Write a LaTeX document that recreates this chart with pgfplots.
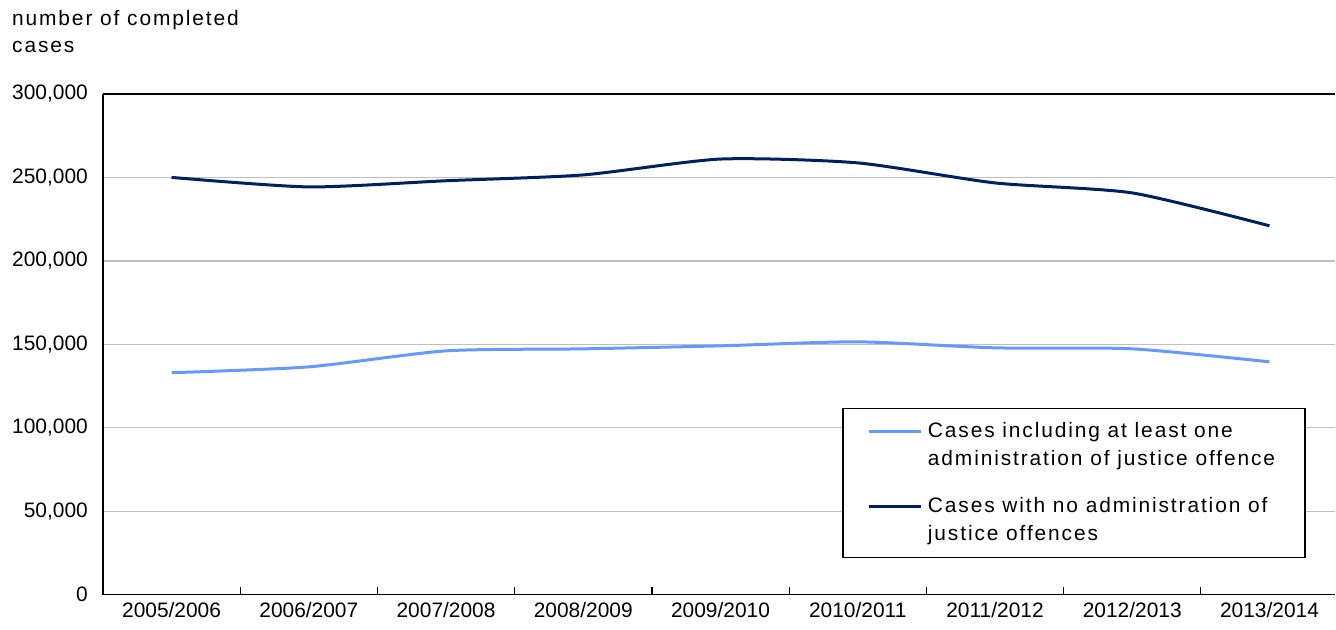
\documentclass[border=0pt]{standalone}
\usepackage{pgfplots}
\pgfplotsset{compat=1.18}
\usepackage{fontspec}
\setmainfont{Liberation Sans}
\newfontfamily\widefont[LetterSpace=9]{Liberation Sans}
\definecolor{lightser}{RGB}{102,153,255}
\definecolor{darkser}{RGB}{0,32,96}

\begin{document}
\fontsize{21}{27}\selectfont
\begin{tikzpicture}
\begin{axis}[
  scale only axis, width=1233bp, height=501bp,
  xmin=-0.5, xmax=8.48, ymin=0, ymax=300000,
  axis x line*=box, axis y line*=left,
  axis line style={line width=1.2bp, -},
  xtick pos=lower, ytick pos=left,
  tick align=inside,
  xtick={0,...,8},
  xticklabels={2005/2006,2006/2007,2007/2008,2008/2009,2009/2010,2010/2011,2011/2012,2012/2013,2013/2014},
  major x tick style={draw=none},
  minor xtick={0.5,1.5,...,7.5},
  minor tick length=8bp,
  minor x tick style={line width=1.2bp, black},
  ytick={0,50000,...,300000},
  ytick style={draw=none},
  ymajorgrids,
  grid style={black!25, line width=1.3bp},
  scaled y ticks=false,
  /pgf/number format/.cd, 1000 sep={,}, fixed, assume math mode=true,
  /pgfplots/.cd,
  yticklabel style={xshift=-8bp},
  legend style={at={(0.600,0.373)}, anchor=north west, draw=black, line width=1.2bp,
    inner xsep=25bp, inner ysep=12bp, row sep=25bp,
    nodes={align=left, inner ysep=2bp, inner xsep=5bp, font=\widefont\fontsize{21}{28}\selectfont}},
  legend cell align=left,
  legend image code/.code={\draw[#1, line width=3bp] (0bp,14bp) -- (52bp,14bp);},
]
\addplot[lightser, line width=3bp, smooth, tension=0.4] coordinates {
  (0,133000) (1,136500) (2,146100) (3,147300) (4,149100)
  (5,151500) (6,147900) (7,147300) (8,139500)};
\addlegendentry{Cases including at least one\\administration of justice offence}
\addplot[darkser, line width=3bp, smooth, tension=0.4] coordinates {
  (0,250000) (1,244300) (2,248000) (3,251500) (4,261000)
  (5,258700) (6,246700) (7,240700) (8,221000)};
\addlegendentry{Cases with no administration of\\justice offences}
\end{axis}
\node[anchor=north west, inner sep=0pt, align=left, font=\widefont\fontsize{21}{27}\selectfont]
  at (current axis.north west) [xshift=-91bp, yshift=84bp] {number of completed\\cases};
\path (current axis.south west) ++(-103bp,-35bp) rectangle ++(1336bp,630bp);
\end{tikzpicture}
\end{document}
